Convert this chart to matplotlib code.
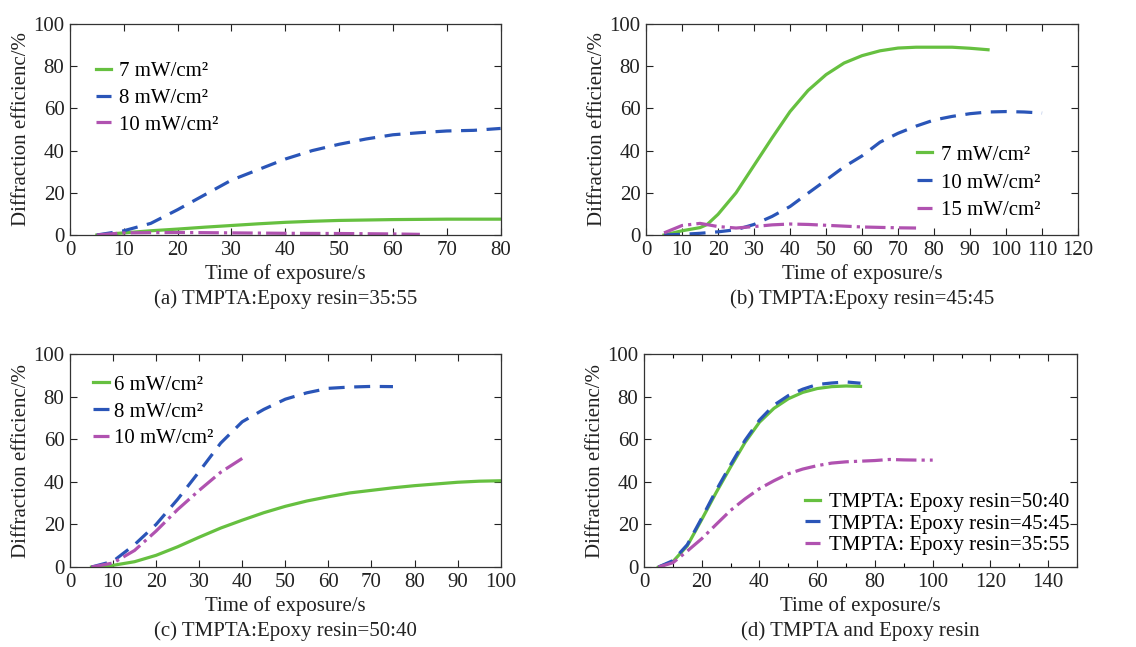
import numpy as np
import matplotlib
matplotlib.use("Agg")
import matplotlib.pyplot as plt
from matplotlib.ticker import MultipleLocator

plt.rcParams['font.family'] = ['Liberation Serif', 'DejaVu Serif']
plt.rcParams['mathtext.fontset'] = 'stix'

GREEN = '#66c040'
BLUE = '#2a55b8'
MAGENTA = '#b052b0'

# (a) TMPTA:Epoxy resin = 35:55
a_x_7 = [5, 10, 15, 20, 25, 30, 35, 40, 45, 50, 55, 60, 65, 70, 75, 80]
a_y_7 = [0, 1.0, 2.0, 2.8, 3.7, 4.5, 5.3, 6.0, 6.5, 6.9, 7.1, 7.3, 7.4, 7.5, 7.5, 7.5]
a_x_8 = [5, 10, 15, 20, 25, 30, 35, 40, 45, 50, 55, 60, 65, 70, 75, 80]
a_y_8 = [0, 2.0, 5.5, 12.0, 19.0, 26.0, 31.0, 36.0, 40.0, 43.0, 45.5, 47.5, 48.5, 49.3, 49.6, 50.5]
a_x_10 = [5, 10, 20, 30, 40, 50, 60, 65]
a_y_10 = [0, 1.0, 1.2, 1.0, 0.8, 0.7, 0.5, 0.3]

# (b) TMPTA:Epoxy resin = 45:45
b_x_7 = [5, 10, 15, 17, 20, 25, 30, 35, 40, 45, 50, 55, 60, 65, 70, 75, 80, 85, 90, 95]
b_y_7 = [0, 2.0, 3.5, 5.0, 9.8, 20.0, 33.0, 46.0, 58.5, 68.5, 76.0, 81.5, 85.0, 87.3, 88.6, 89.0, 89.0, 89.0, 88.5, 87.8]
b_x_10 = [5, 10, 15, 20, 25, 30, 35, 40, 45, 50, 55, 60, 65, 70, 75, 80, 85, 90, 95, 100, 105, 110]
b_y_10 = [0, 0.3, 0.8, 1.5, 2.5, 5.0, 8.8, 13.5, 19.8, 26.0, 32.3, 37.5, 44.0, 48.2, 51.6, 54.5, 56.2, 57.5, 58.3, 58.5, 58.3, 57.8]
b_x_15 = [5, 10, 15, 20, 25, 30, 35, 40, 45, 50, 55, 60, 65, 70, 75]
b_y_15 = [1.0, 4.5, 5.5, 4.0, 3.3, 4.0, 4.8, 5.2, 5.0, 4.6, 4.2, 3.8, 3.6, 3.4, 3.3]

# (c) TMPTA:Epoxy resin = 50:40
c_x_6 = [5, 10, 15, 20, 25, 30, 35, 40, 45, 50, 55, 60, 65, 70, 75, 80, 85, 90, 95, 100]
c_y_6 = [0, 0.8, 2.5, 5.5, 9.5, 14.0, 18.3, 22.0, 25.5, 28.5, 31.0, 33.0, 34.8, 36.0, 37.2, 38.2, 39.0, 39.8, 40.3, 40.5]
c_x_8 = [5, 10, 15, 20, 25, 30, 35, 40, 45, 50, 55, 60, 65, 70, 75]
c_y_8 = [0, 2.7, 10.5, 20.0, 31.8, 44.8, 58.2, 68.2, 74.0, 78.8, 81.8, 83.9, 84.5, 84.8, 84.7]
c_x_10 = [5, 10, 15, 20, 25, 30, 35, 40]
c_y_10 = [0, 1.9, 7.8, 16.9, 27.0, 36.0, 44.5, 51.0]

# (d) TMPTA and Epoxy resin
d_x_5040 = [5, 10, 15, 20, 25, 30, 35, 40, 45, 50, 55, 60, 65, 70, 75]
d_y_5040 = [0, 2.5, 10.0, 22.3, 35.0, 47.0, 58.5, 68.0, 74.5, 79.0, 82.0, 83.8, 84.7, 85.0, 84.8]
d_x_4545 = [5, 10, 15, 20, 25, 30, 35, 40, 45, 50, 55, 60, 65, 70, 75]
d_y_4545 = [0, 3.0, 10.5, 23.0, 36.0, 48.0, 59.5, 69.0, 76.0, 80.5, 83.5, 85.7, 86.4, 86.9, 86.3]
d_x_3555 = [5, 10, 15, 20, 25, 30, 35, 40, 45, 50, 55, 60, 65, 70, 75, 80, 85, 90, 95, 100]
d_y_3555 = [0, 2.0, 7.5, 13.3, 20.0, 26.6, 32.0, 36.8, 40.5, 43.8, 46.0, 47.6, 48.8, 49.4, 49.7, 50.0, 50.5, 50.3, 50.2, 50.2]

FS = 15

fig = plt.figure(figsize=(11.36, 6.47), dpi=100)


def style_axes(ax, xmax, xstep, caption, minor=None):
    ax.set_xlim(0, xmax)
    ax.set_ylim(0, 100)
    ax.xaxis.set_major_locator(MultipleLocator(xstep))
    ax.yaxis.set_major_locator(MultipleLocator(20))
    if minor:
        ax.xaxis.set_minor_locator(MultipleLocator(minor))
    ax.tick_params(direction='in', top=True, right=True, length=5, width=0.8,
                   labelsize=FS, pad=4, colors='#222222')
    ax.tick_params(which='minor', direction='in', top=True, length=3, width=0.8)
    for s in ax.spines.values():
        s.set_linewidth(0.9)
        s.set_color('#333333')
    ax.set_xlabel('Time of exposure/s', fontsize=FS, labelpad=3, color='#222222')
    ax.set_ylabel('Diffraction efficienc/%', fontsize=FS, labelpad=2, color='#222222')
    ax.text(0.5, -0.302, caption, transform=ax.transAxes, ha='center', va='center',
            fontsize=FS, color='#222222')


lw = 2.3
dash = (0, (5, 3))
leg = dict(frameon=False, fontsize=FS, handlelength=0.75, handletextpad=0.4,
           borderaxespad=0)

ax1 = fig.add_axes([0.0616, 0.6368, 0.3791, 0.3261])
ax1.plot(a_x_7, a_y_7, color=GREEN, lw=lw, label='7 mW/cm²')
ax1.plot(a_x_8, a_y_8, color=BLUE, lw=lw, ls=dash, label='8 mW/cm²')
ax1.plot(a_x_10, a_y_10, color=MAGENTA, lw=lw, ls='-.', label='10 mW/cm²')
style_axes(ax1, 80, 10, '(a) TMPTA:Epoxy resin=35:55')
ax1.legend(loc='upper left', bbox_to_anchor=(0.04, 0.862), labelspacing=0.35, **leg)

ax2 = fig.add_axes([0.5687, 0.6368, 0.3803, 0.3261])
ax2.plot(b_x_7, b_y_7, color=GREEN, lw=lw, label='7 mW/cm²')
ax2.plot(b_x_10, b_y_10, color=BLUE, lw=lw, ls=dash, label='10 mW/cm²')
ax2.plot(b_x_15, b_y_15, color=MAGENTA, lw=lw, ls='-.', label='15 mW/cm²')
style_axes(ax2, 120, 10, '(b) TMPTA:Epoxy resin=45:45')
ax2.legend(loc='upper left', bbox_to_anchor=(0.607, 0.466), labelspacing=0.4, **leg)

ax3 = fig.add_axes([0.0616, 0.1236, 0.3791, 0.3292])
ax3.plot(c_x_6, c_y_6, color=GREEN, lw=lw, label='6 mW/cm²')
ax3.plot(c_x_8, c_y_8, color=BLUE, lw=lw, ls=dash, label='8 mW/cm²')
ax3.plot(c_x_10, c_y_10, color=MAGENTA, lw=lw, ls='-.', label='10 mW/cm²')
style_axes(ax3, 100, 10, '(c) TMPTA:Epoxy resin=50:40')
ax3.legend(loc='upper left', bbox_to_anchor=(0.034, 0.94), labelspacing=0.35,
           **{**leg, 'handletextpad': 0.25})

ax4 = fig.add_axes([0.5669, 0.1236, 0.3812, 0.3292])
ax4.plot(d_x_5040, d_y_5040, color=GREEN, lw=lw, label='TMPTA: Epoxy resin=50:40')
ax4.plot(d_x_4545, d_y_4545, color=BLUE, lw=lw, ls=dash, label='TMPTA: Epoxy resin=45:45')
ax4.plot(d_x_3555, d_y_3555, color=MAGENTA, lw=lw, ls='-.', label='TMPTA: Epoxy resin=35:55')
style_axes(ax4, 150, 20, '(d) TMPTA and Epoxy resin', minor=10)
ax4.legend(loc='upper left', bbox_to_anchor=(0.352, 0.39), labelspacing=0.1, **leg)

fig.savefig('out.png', dpi=100)
